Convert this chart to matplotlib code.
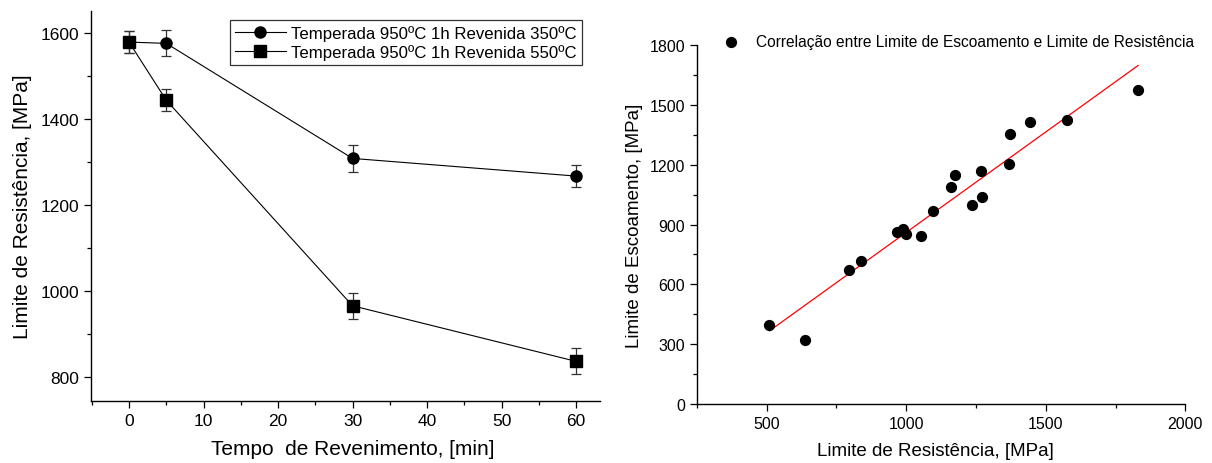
import matplotlib
matplotlib.use("Agg")
import matplotlib.pyplot as plt
from matplotlib.ticker import MultipleLocator
import numpy as np

plt.rcParams['font.family'] = ['Liberation Sans', 'DejaVu Sans']

# ---- Left chart data ----
tempo = [0, 5, 30, 60]
res_350 = [1578, 1575, 1308, 1267]
err_350 = [25, 30, 32, 25]
res_550 = [1578, 1443, 966, 837]
err_550 = [25, 25, 30, 30]
label_350 = "Temperada 950ºC 1h Revenida 350ºC"
label_550 = "Temperada 950ºC 1h Revenida 550ºC"

# ---- Right chart data ----
lim_resistencia = [510, 638, 794, 838, 966, 987, 1000, 1052, 1097, 1159,
                   1174, 1234, 1268, 1270, 1368, 1371, 1444, 1577, 1831]
lim_escoamento = [395, 320, 673, 719, 864, 879, 851, 844, 970, 1087,
                  1149, 1000, 1166, 1037, 1201, 1353, 1415, 1425, 1575]
fit_slope = 1.007
fit_intercept = -146.6
label_corr = "Correlação entre Limite de Escoamento e Limite de Resistência"

fig = plt.figure(figsize=(12.12, 4.64), dpi=100)

# ---------- Left axes ----------
ax1 = fig.add_axes([0.0751, 0.1336, 0.495 - 0.0751, 0.974 - 0.1336])
ax1.errorbar(tempo, res_350, yerr=err_350, fmt='-o', color='black', lw=0.8,
             ms=8, ecolor='#333333', elinewidth=0.9, capsize=3.5, capthick=0.9,
             label=label_350)
ax1.errorbar(tempo, res_550, yerr=err_550, fmt='-s', color='black', lw=0.8,
             ms=8, ecolor='#333333', elinewidth=0.9, capsize=3.5, capthick=0.9,
             label=label_550)
ax1.set_xlim(-5.1, 63.2)
ax1.set_ylim(745, 1650)
ax1.xaxis.set_major_locator(MultipleLocator(10))
ax1.xaxis.set_minor_locator(MultipleLocator(5))
ax1.yaxis.set_major_locator(MultipleLocator(200))
ax1.yaxis.set_minor_locator(MultipleLocator(100))
ax1.spines['top'].set_visible(False)
ax1.spines['right'].set_visible(False)
for s in ('left', 'bottom'):
    ax1.spines[s].set_linewidth(1.0)
ax1.tick_params(which='major', length=5, width=0.9, labelsize=12.5, direction='out')
ax1.tick_params(which='minor', length=3, width=0.9, direction='out')
ax1.set_xlabel("Tempo  de Revenimento, [min]", fontsize=15, labelpad=8)
ax1.set_ylabel("Limite de Resistência, [MPa]", fontsize=15, labelpad=6)
handles, labels = ax1.get_legend_handles_labels()
handles = [h[0] for h in handles]
leg = ax1.legend(handles, labels, loc='upper right', bbox_to_anchor=(0.965, 0.977),
                 fontsize=12.1, frameon=True, fancybox=False, edgecolor='black',
                 handlelength=3.0, borderpad=0.3, labelspacing=0.2,
                 handletextpad=0.35, borderaxespad=0.0)
leg.get_frame().set_linewidth(0.9)

# ---------- Right axes ----------
ax2 = fig.add_axes([0.575, 0.127, 0.978 - 0.575, 0.901 - 0.127])
ax2.scatter(lim_resistencia, lim_escoamento, s=50, color='black', zorder=3,
            label=label_corr)
xf = np.array([min(lim_resistencia), max(lim_resistencia)])
ax2.plot(xf, fit_slope * xf + fit_intercept, color='red', lw=0.9, zorder=2)
ax2.set_xlim(250, 2000)
ax2.set_ylim(0, 1800)
ax2.xaxis.set_major_locator(MultipleLocator(500))
ax2.xaxis.set_minor_locator(MultipleLocator(250))
ax2.yaxis.set_major_locator(MultipleLocator(300))
ax2.yaxis.set_minor_locator(MultipleLocator(150))
ax2.spines['top'].set_visible(False)
ax2.spines['right'].set_visible(False)
for s in ('left', 'bottom'):
    ax2.spines[s].set_linewidth(1.0)
ax2.tick_params(which='major', length=5, width=0.9, labelsize=11.5, direction='out')
ax2.tick_params(which='minor', length=3, width=0.9, direction='out')
ax2.set_xlabel("Limite de Resistência, [MPa]", fontsize=13.5, labelpad=8)
ax2.set_ylabel("Limite de Escoamento, [MPa]", fontsize=13.5, labelpad=5)
ax2.legend(loc='center left', bbox_to_anchor=(0.025, 1.01), fontsize=11.2,
           frameon=False, handletextpad=0.6, borderaxespad=0.0,
           scatterpoints=1)

# small horizontal nudges of the axis titles (axes-fraction units)
ax1.xaxis.label.set_x(0.5 + 7 / 509)
ax2.xaxis.label.set_x(0.5 - 6 / 488)

fig.savefig("out.png", dpi=100)
